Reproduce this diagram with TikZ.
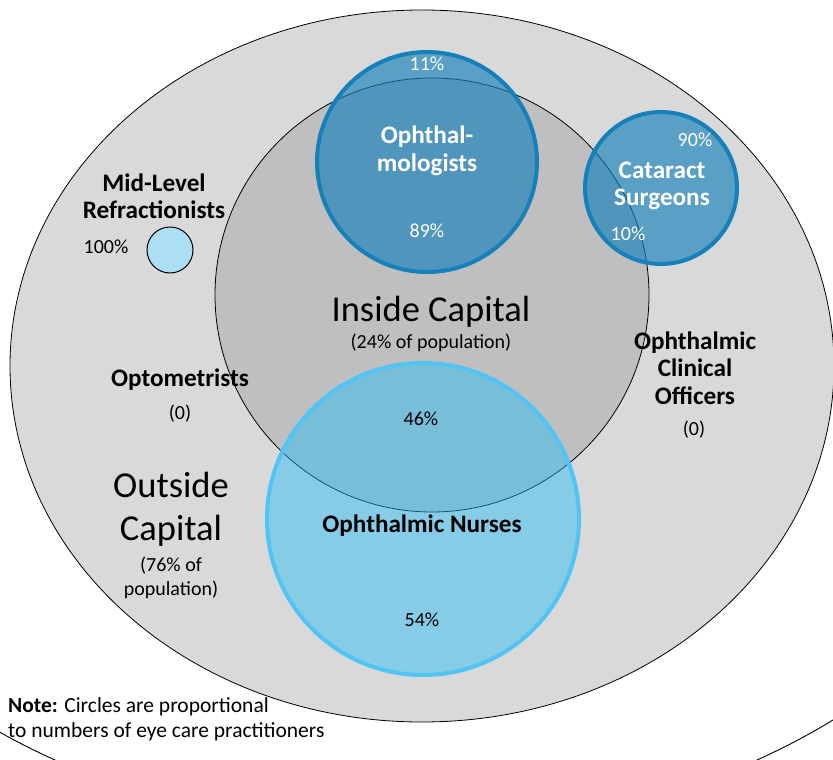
\documentclass[tikz,border=0pt]{standalone}
\usepackage{fontspec}
\setmainfont{Carlito}
\usetikzlibrary{shapes.geometric}
\definecolor{outergray}{RGB}{217,217,217}
\definecolor{innergray}{RGB}{191,191,191}
\definecolor{deepblue}{RGB}{22,128,186}
\definecolor{skyblue}{RGB}{35,190,250}
\definecolor{skyedge}{RGB}{80,196,245}
\definecolor{paleblue}{RGB}{172,223,246}

\begin{document}
\begin{tikzpicture}[x=1pt, y=-1pt,
    every node/.style={inner sep=0pt, align=center},
    zone/.style={draw=black, line width=0.8pt},
    practice/.style={circle, line width=4pt, draw=deepblue, fill=deepblue,
        fill opacity=0.65},
    nursing/.style={circle, line width=4pt, draw=skyedge, fill=skyblue,
        fill opacity=0.45},
    pct/.style={font=\fontsize{20}{24}\selectfont},
    pctwhite/.style={pct, text=white},
    cadre/.style={font=\bfseries\fontsize{25.2}{27.5}\selectfont},
    cadrewhite/.style={cadre, text=white},
    region/.style={font=\fontsize{36.5}{43}\selectfont}
]
\useasboundingbox (0,0) rectangle (833,760);
\clip (0,0) rectangle (833,760);

% areas
\node[zone, ellipse, fill=outergray, minimum width=824pt, minimum height=712pt]
    (outside) at (422,366) {};
\node[zone, circle, fill=innergray, minimum size=434pt] (inside) at (432,295) {};
\draw[line width=0.9pt] (406,380) ++(180:648pt and 452pt)
    arc[start angle=180, end angle=360, x radius=648pt, y radius=452pt];

% practitioners
\node[practice, minimum size=220pt] (ophth) at (427,162) {};
\node[practice, minimum size=152pt] (cataract) at (661,188) {};
\node[nursing, minimum size=312pt] (nurses) at (423,519) {};
\node[circle, draw=black, line width=1pt, fill=paleblue, minimum size=46pt]
    (midlevel) at (170,250) {};

% labels
\node[pctwhite] (ophth-out) at (427,64) {11\%};
\node[cadrewhite] (ophth-name) at (427,151) {Ophthal-\\mologists};
\node[pctwhite] (ophth-in) at (427,231) {89\%};
\node[pctwhite] (cataract-out) at (695,140) {90\%};
\node[cadrewhite] (cataract-name) at (662,186) {Cataract\\Surgeons};
\node[pctwhite] (cataract-in) at (628,234) {10\%};
\node[cadre] (midlevel-name) at (154,196) {Mid-Level\\Refractionists};
\node[pct] (midlevel-out) at (106,247) {100\%};
\node[region] (inside-name) at (431,312) {Inside Capital};
\node[pct] (inside-share) at (431,343) {(24\% of population)};
\node[cadre] (opto-name) at (180,380) {Optometrists};
\node[pct] (opto-n) at (180,414) {(0)};
\node[cadre] (oco-name) at (695,368) {Ophthalmic\\Clinical\\Officers};
\node[pct] (oco-n) at (694,430) {(0)};
\node[pct] (nurses-in) at (421,419) {46\%};
\node[region] (outside-name) at (171,509) {Outside\\Capital};
\node[pct] (outside-share) at (171,578) {(76\% of\\population)};
\node[cadre] (nurses-name) at (422,526) {Ophthalmic Nurses};
\node[pct] (nurses-out) at (422,620) {54\%};
\node[font=\fontsize{21.5}{25}\selectfont, anchor=west, align=left] (note)
    at (8,719) {\textbf{Note:} Circles are proportional\\to numbers of eye care practitioners};
\end{tikzpicture}
\end{document}
